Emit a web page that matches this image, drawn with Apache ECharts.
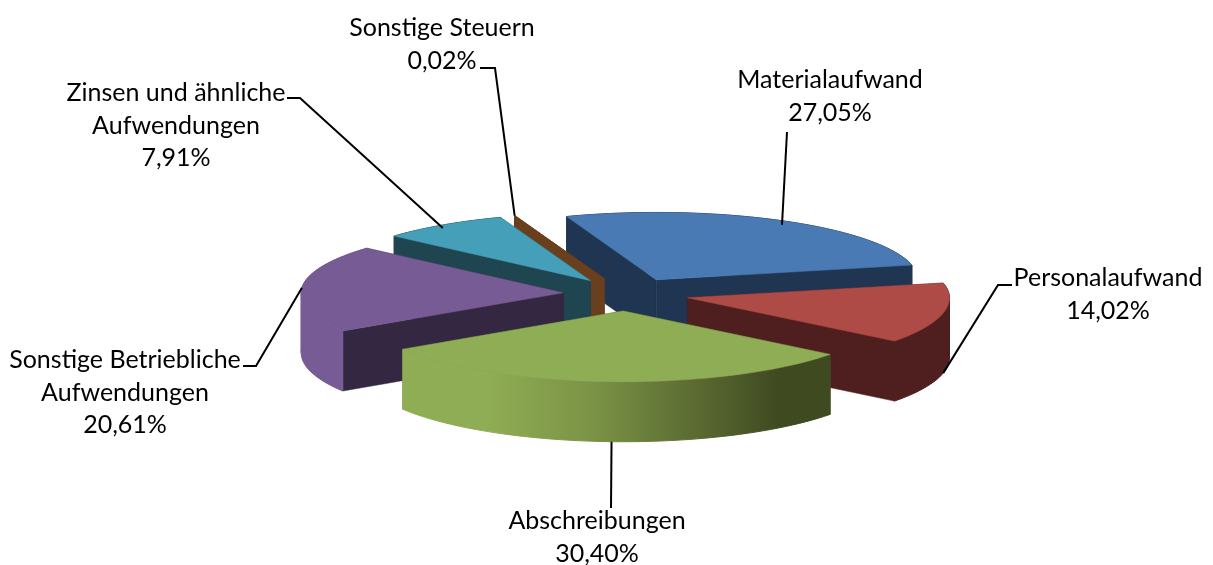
<!DOCTYPE html>
<html>
<head>
<meta charset="utf-8">
<title>Aufwendungen</title>
<style>
  html, body { margin: 0; padding: 0; background: #fff; }
  #chart-container { width: 1213px; height: 565px; }
</style>
<script src="https://cdn.jsdelivr.net/npm/echarts@6/dist/echarts.min.js"></script>
</head>
<body>
<div id="chart-container"></div>
<script>
const categories = ['Materialaufwand', 'Personalaufwand', 'Abschreibungen', 'Sonstige Betriebliche Aufwendungen', 'Zinsen und ähnliche Aufwendungen', 'Sonstige Steuern'];
const shares = [27.05, 14.02, 30.40, 20.61, 7.91, 0.02];

// label text broken the way the picture does it
const labelLines = [
  ['Materialaufwand'],
  ['Personalaufwand'],
  ['Abschreibungen'],
  ['Sonstige Betriebliche', 'Aufwendungen'],
  ['Zinsen und ähnliche', 'Aufwendungen'],
  ['Sonstige Steuern']
];
const topColors = ['#4a7ab3', '#ae4b47', '#8fad54', '#775b95', '#459fb9', '#6a3f1e'];
const faceColors = ['#1f3552', '#4f1f1f', '#3f4a20', '#342741', '#1f4550', '#6a3f1e'];
// back slices are painted first
const paintOrder = [0, 5, 4, 3, 1, 2];

// fake 3d projection
const cx = 626, cy = 294, R = 262, kBack = 0.257, kFront = 0.27, explode = 63, depth = 60;
const firstAngle = -20;

// label centre x, first line y, leader start and elbow, drop of the leader end onto the wall
const labelPos = [
  { x: 830, y: 80, from: [787, 132], drop: 4 },
  { x: 1108, y: 278, from: [1012, 285], elbow: [998, 285], drop: 60 },
  { x: 597, y: 521, from: [611, 508], drop: 60 },
  { x: 125, y: 360, from: [243, 366], elbow: [256, 366], drop: 0 },
  { x: 176, y: 93, from: [287, 98], elbow: [300, 98], drop: 3 },
  { x: 442, y: 28, from: [480, 68], elbow: [495, 68], drop: 0 }
];

const total = shares.reduce(function (a, b) { return a + b; }, 0);
const startAngles = [];
let acc = firstAngle;
for (let i = 0; i < shares.length; i++) {
  startAngles.push(acc);
  acc += shares[i] / total * 360;
}

function project(apex, deg) {
  const r = deg * Math.PI / 180;
  const c = Math.cos(r);
  const k = c > 0 ? kBack : kFront;
  return [apex[0] + R * Math.sin(r), apex[1] - R * k * c];
}

function apexOf(mid) {
  const r = mid * Math.PI / 180;
  const c = Math.cos(r);
  return [cx + explode * Math.sin(r), cy - explode * (c > 0 ? kBack : kFront) * c];
}

function down(p) {
  return [p[0], p[1] + depth];
}

function wallFill(i, rimLeft, rimRight) {
  if (i === 2) {
    return new echarts.graphic.LinearGradient(rimLeft, 0, rimRight, 0, [
      { offset: 0, color: '#8fad54' },
      { offset: 0.2, color: '#8fad54' },
      { offset: 0.45, color: '#7a9245' },
      { offset: 0.72, color: '#56652f' },
      { offset: 0.88, color: '#3f4a20' },
      { offset: 1, color: '#3f4a20' }
    ], true);
  }
  if (i === 3) return '#775b95';
  return faceColors[i];
}

// rim points from a to b
function rimPoints(apex, a, b) {
  const pts = [];
  const steps = Math.max(2, Math.ceil((b - a) / 2));
  for (let s = 0; s <= steps; s++) {
    pts.push(project(apex, a + (b - a) * s / steps));
  }
  return pts;
}

function renderSlice(params, api) {
  const i = api.value(0);
  const start = startAngles[i];
  const sweep = shares[i] / total * 360;
  const end = start + sweep;
  const mid = start + sweep / 2;
  const apex = apexOf(mid);

  const rim = rimPoints(apex, start, end);
  const first = rim[0], last = rim[rim.length - 1];
  const children = [];

  // both cut faces
  [first, last].forEach(function (p) {
    children.push({
      type: 'polygon',
      shape: { points: [apex, p, down(p), down(apex)] },
      style: { fill: faceColors[i], stroke: faceColors[i], lineWidth: 0.5 }
    });
  });
  // outer wall, cut where the rim turns back at the sides so each piece is a simple polygon
  const cuts = [start];
  [90, 270].forEach(function (a) {
    if (a > start && a < end) cuts.push(a);
  });
  cuts.push(end);
  const fill = wallFill(i, last[0], first[0]);
  for (let c = 0; c < cuts.length - 1; c++) {
    const part = rimPoints(apex, cuts[c], cuts[c + 1]);
    children.push({
      type: 'polygon',
      shape: { points: part.concat(part.slice().reverse().map(down)) },
      style: { fill: fill, stroke: fill, lineWidth: 1 }
    });
  }
  // top
  children.push({
    type: 'polygon',
    shape: { points: [apex].concat(rim) },
    style: { fill: topColors[i], stroke: topColors[i], lineWidth: 0.5 }
  });

  // leader line
  const pos = labelPos[i];
  const anchor = project(apex, mid);
  anchor[1] += pos.drop;
  children.push({
    type: 'polyline',
    z2: 5,
    shape: { points: (pos.elbow ? [pos.from, pos.elbow] : [pos.from]).concat([anchor]) },
    style: { stroke: '#000', lineWidth: 2, fill: null }
  });

  // label text
  const lines = labelLines[i].concat([shares[i].toFixed(2).replace('.', ',') + '%']);
  lines.forEach(function (t, n) {
    children.push({
      type: 'text',
      z2: 6,
      x: pos.x,
      y: pos.y + n * 32.5,
      style: {
        text: t,
        fill: '#000',
        font: '25px Lato',
        align: 'center',
        verticalAlign: 'middle'
      }
    });
  });

  return { type: 'group', children: children };
}

var dom = document.getElementById('chart-container');
var myChart = echarts.init(dom, null, { renderer: 'canvas' });

var option = {
  animation: false,
  backgroundColor: '#fff',
  series: [
    {
      type: 'custom',
      coordinateSystem: 'none',
      renderItem: renderSlice,
      silent: true,
      data: paintOrder.map(function (i) { return [i, shares[i], categories[i]]; })
    }
  ]
};

myChart.setOption(option);
</script>
</body>
</html>
